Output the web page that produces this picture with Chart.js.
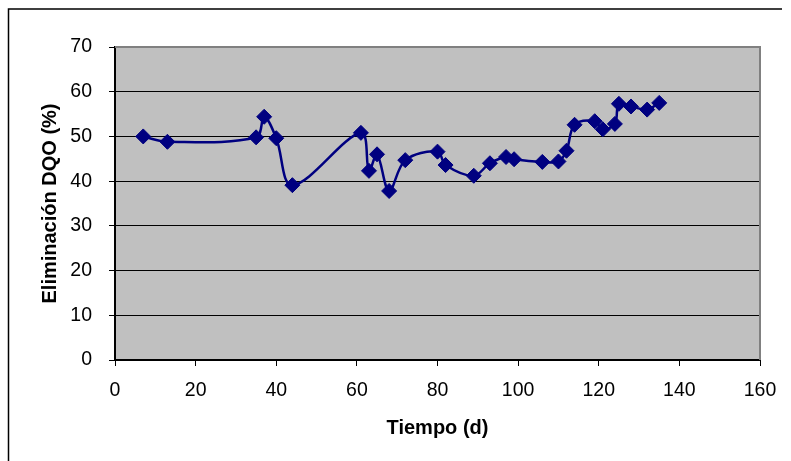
<!DOCTYPE html>
<html>
<head>
<meta charset="utf-8">
<script src="https://cdn.jsdelivr.net/npm/chart.js@4/dist/chart.umd.min.js"></script>
<style>
  body { margin: 0; background: #fff; }
  canvas { display: block; }
</style>
</head>
<body>
<canvas id="graficoDQO" width="791" height="461"></canvas>
<script>
// tiempo (d) y eliminacion DQO (%)
const tiempo = [7, 13, 35, 37, 40, 44, 61, 63, 65, 68, 72, 80, 82, 89, 93, 97, 99, 106, 110, 112, 114, 119, 121, 124, 125, 128, 132, 135];
const eliminacion = [50.0, 48.8, 49.8, 54.4, 49.6, 39.1, 50.8, 42.3, 46.0, 37.8, 44.7, 46.6, 43.6, 41.2, 44.0, 45.4, 44.9, 44.3, 44.4, 46.8, 52.6, 53.4, 51.6, 52.8, 57.3, 56.7, 56.0, 57.5];
const ticksX = [0, 20, 40, 60, 80, 100, 120, 140, 160];
const ticksY = [0, 10, 20, 30, 40, 50, 60, 70];

const fuente = 'Liberation Sans, Arial, sans-serif';

const puntos = tiempo.map((t, i) => ({ x: t, y: eliminacion[i] }));

// fondo gris del area y marco exterior
const fondoPlugin = {
  id: 'fondo',
  beforeDraw(chart) {
    const { ctx, chartArea: a } = chart;
    ctx.save();
    ctx.fillStyle = '#fff';
    ctx.fillRect(0, 0, chart.width, chart.height);
    ctx.fillStyle = '#c0c0c0';
    ctx.fillRect(a.left, a.top, a.right - a.left, a.bottom - a.top);
    ctx.strokeStyle = '#000';
    ctx.lineWidth = 1.5;
    ctx.beginPath();
    ctx.moveTo(8.5, 461);
    ctx.lineTo(8.5, 9);
    ctx.lineTo(782, 9);
    ctx.stroke();
    ctx.restore();
  },
  beforeDatasetsDraw(chart) {
    const { ctx, chartArea: a } = chart;
    ctx.save();
    ctx.strokeStyle = '#808080';
    ctx.lineWidth = 2;
    ctx.beginPath();
    ctx.moveTo(a.left, a.top);
    ctx.lineTo(a.right, a.top);
    ctx.lineTo(a.right, a.bottom);
    ctx.stroke();
    ctx.restore();
  }
};

const ctx = document.getElementById('graficoDQO').getContext('2d');

const grafico = new Chart(ctx, {
  type: 'line',
  data: {
    datasets: [{
      label: 'Eliminación DQO',
      data: puntos,
      borderColor: '#000080',
      backgroundColor: '#000080',
      borderWidth: 2.5,
      tension: 0.35,
      pointStyle: 'rectRot',
      pointRadius: 7.5,
      pointBorderWidth: 1,
      pointBorderColor: '#000080',
      pointBackgroundColor: '#000080'
    }]
  },
  options: {
    responsive: false,
    animation: false,
    layout: {
      padding: { top: 47, right: 31, left: 0, bottom: 0 }
    },
    plugins: {
      legend: { display: false },
      tooltip: { enabled: false }
    },
    scales: {
      x: {
        type: 'linear',
        min: 0,
        max: 160,
        afterBuildTicks(scale) {
          scale.ticks = ticksX.map(v => ({ value: v }));
        },
        afterFit(scale) {
          scale.height = 101;
        },
        ticks: {
          color: '#000',
          padding: 13,
          maxRotation: 0,
          font: { family: fuente, size: 19.5 }
        },
        grid: {
          drawOnChartArea: false,
          drawTicks: true,
          tickLength: 6,
          color: '#000',
          lineWidth: 1
        },
        border: { color: '#000', width: 2 },
        title: {
          display: true,
          text: 'Tiempo (d)',
          color: '#000',
          font: { family: fuente, size: 20, weight: 'bold' },
          padding: { top: 0, bottom: 21 }
        }
      },
      y: {
        min: 0,
        max: 70,
        afterBuildTicks(scale) {
          scale.ticks = ticksY.map(v => ({ value: v }));
        },
        afterFit(scale) {
          scale.width = 115;
        },
        ticks: {
          color: '#000',
          padding: 17,
          font: { family: fuente, size: 19.5 }
        },
        grid: {
          color: '#000',
          lineWidth: 1,
          tickLength: 6
        },
        border: { color: '#000', width: 2 },
        title: {
          display: true,
          text: 'Eliminación DQO (%)',
          color: '#000',
          font: { family: fuente, size: 20, weight: 'bold' },
          padding: { top: 38, bottom: 0 }
        }
      }
    }
  },
  plugins: [fondoPlugin]
});
</script>
</body>
</html>
